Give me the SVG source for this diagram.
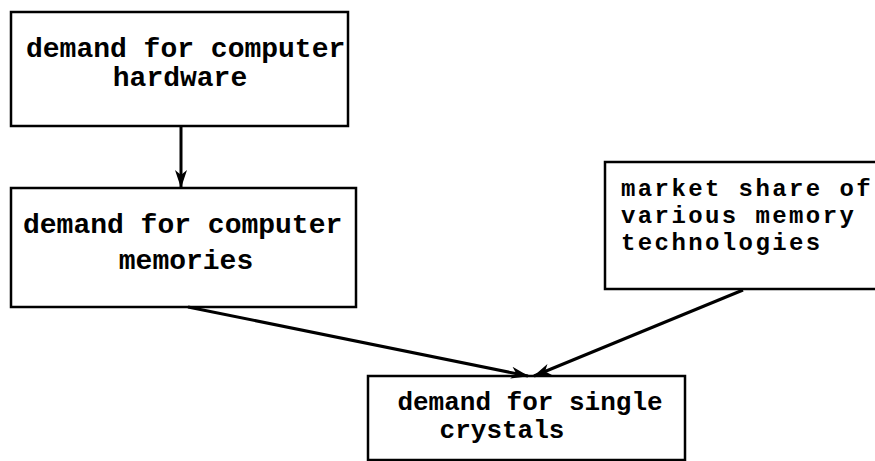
<svg xmlns="http://www.w3.org/2000/svg" width="875" height="461" viewBox="0 0 875 461">
<style>
.box{fill:#fff;stroke:#000;stroke-width:2.5}
.t{font-family:"Liberation Mono","Courier New",monospace;font-weight:bold;font-size:28px;fill:#000}
.s{font-size:24px;letter-spacing:2.4px}
.c{stroke:#000;stroke-width:3;fill:none}
</style>
<defs>
<marker id="ah" markerWidth="18" markerHeight="12" refX="17" refY="6" orient="auto" markerUnits="userSpaceOnUse">
<path d="M0,0 L18,6 L0,12 L5,6 Z" fill="#000"/>
</marker>
</defs>
<rect width="875" height="461" fill="#fff"/>
<g id="n1">
<rect class="box" x="11" y="12" width="337" height="114"/>
<text class="t" x="26" y="57">demand for computer</text>
<text class="t" x="180" y="86" text-anchor="middle">hardware</text>
</g>
<g id="n2">
<rect class="box" x="11" y="188" width="345" height="119"/>
<text class="t" x="23" y="233">demand for computer</text>
<text class="t" x="186" y="269" text-anchor="middle">memories</text>
</g>
<g id="n3">
<rect class="box" x="605" y="162" width="280" height="127"/>
<text class="t s" x="621" y="196">market share of</text>
<text class="t s" x="621" y="223">various memory</text>
<text class="t s" x="621" y="250">technologies</text>
</g>
<g id="n4">
<rect class="box" x="368" y="376" width="317" height="84"/>
<text class="t" x="530" y="410" text-anchor="middle" style="font-size:26px">demand for single</text>
<text class="t" x="502" y="438" text-anchor="middle" style="font-size:26px">crystals</text>
</g>
<g id="connectors">
<line class="c" x1="181" y1="126" x2="181" y2="187" stroke-width="2" marker-end="url(#ah)"/>
<line class="c" x1="188" y1="307" x2="528" y2="376" marker-end="url(#ah)"/>
<line class="c" x1="743" y1="290" x2="534" y2="376" marker-end="url(#ah)"/>
</g>
</svg>
